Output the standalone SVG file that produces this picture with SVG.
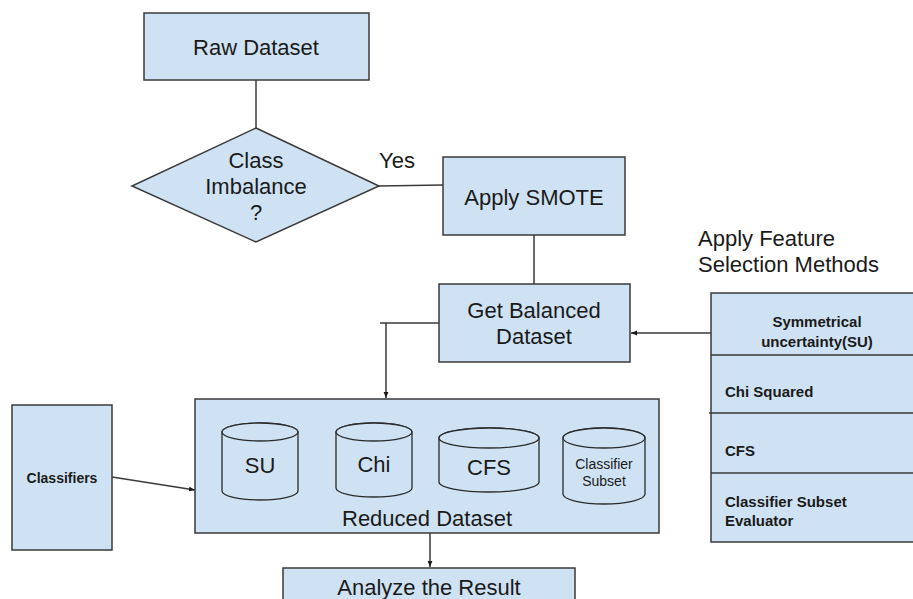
<svg xmlns="http://www.w3.org/2000/svg" width="913" height="599" viewBox="0 0 913 599">
<defs>
<style>
.box{fill:#cfe2f3;stroke:#3a3a3a;stroke-width:1.5}
.cyl{fill:#cfe2f3;stroke:#2a2a2a;stroke-width:1.3}
.ln{fill:none;stroke:#3a3a3a;stroke-width:1.5}
.t{font-family:"Liberation Sans",Arial,sans-serif;font-size:22px;fill:#1a1a1a;text-anchor:middle}
.b{font-family:"Liberation Sans",Arial,sans-serif;font-size:15px;font-weight:bold;fill:#1a1a1a}
.s{font-family:"Liberation Sans",Arial,sans-serif;font-size:14px;fill:#1a1a1a;text-anchor:middle}
</style>
<marker id="arr" viewBox="0 0 10 10" refX="10" refY="5" markerWidth="6" markerHeight="6" orient="auto" markerUnits="userSpaceOnUse">
<path d="M0,1 L10,5 L0,9 Z" fill="#1a1a1a"/>
</marker>
</defs>
<rect width="913" height="599" fill="#ffffff"/>

<g id="connectors">
<line class="ln" x1="256" y1="80" x2="256" y2="128"/>
<line class="ln" x1="379" y1="186" x2="443" y2="185"/>
<line class="ln" x1="534" y1="235" x2="534" y2="284"/>
<line class="ln" x1="439" y1="323" x2="380" y2="323"/>
<line class="ln" x1="386" y1="323" x2="386" y2="398" marker-end="url(#arr)"/>
<line class="ln" x1="711" y1="333" x2="631" y2="333" marker-end="url(#arr)"/>
<line class="ln" x1="112" y1="477" x2="195" y2="490" marker-end="url(#arr)"/>
<line class="ln" x1="430" y1="533" x2="430" y2="567" marker-end="url(#arr)"/>
<text x="379" y="168" class="t" style="text-anchor:start">Yes</text>
</g>

<g id="raw-dataset">
<rect class="box" x="144" y="13" width="225" height="67"/>
<text class="t" x="256" y="55">Raw Dataset</text>
</g>

<g id="class-imbalance">
<polygon class="box" points="256,128 379,186 256,242 132,186"/>
<text class="t" x="256" y="168">Class</text>
<text class="t" x="256" y="194">Imbalance</text>
<text class="t" x="256" y="220">?</text>
</g>

<g id="apply-smote">
<rect class="box" x="443" y="157" width="182" height="78"/>
<text class="t" x="534" y="205">Apply SMOTE</text>
</g>

<g id="get-balanced">
<rect class="box" x="439" y="284" width="191" height="78"/>
<text class="t" x="534" y="318">Get Balanced</text>
<text class="t" x="534" y="344">Dataset</text>
</g>

<g id="feature-methods">
<text class="t" x="698" y="246" style="text-anchor:start">Apply Feature</text>
<text class="t" x="698" y="272" style="text-anchor:start">Selection Methods</text>
<rect class="box" x="711" y="293" width="215" height="249"/>
<line class="ln" x1="711" y1="355" x2="926" y2="355"/>
<line class="ln" x1="709" y1="413" x2="926" y2="413"/>
<line class="ln" x1="711" y1="473" x2="926" y2="473"/>
<text class="b" x="817" y="327" style="text-anchor:middle">Symmetrical</text>
<text class="b" x="817" y="347" style="text-anchor:middle">uncertainty(SU)</text>
<text class="b" x="725" y="397">Chi Squared</text>
<text class="b" x="725" y="456">CFS</text>
<text class="b" x="725" y="507">Classifier Subset</text>
<text class="b" x="725" y="526">Evaluator</text>
</g>

<g id="classifiers">
<rect class="box" x="12" y="405" width="100" height="145"/>
<text class="b" x="62" y="483" style="text-anchor:middle;font-size:14px">Classifiers</text>
</g>

<g id="reduced-dataset">
<rect class="box" x="195" y="399" width="464" height="134"/>
<text class="t" x="427" y="526">Reduced Dataset</text>
</g>

<g id="cyl-su">
<path class="cyl" d="M222,432 A38,9 0 0 1 298,432 L298,491 A38,9 0 0 1 222,491 Z"/>
<ellipse class="cyl" cx="260" cy="432" rx="38" ry="9" fill="#dbe9f6"/>
<text class="t" x="260" y="473">SU</text>
</g>

<g id="cyl-chi">
<path class="cyl" d="M336,432 A38,9 0 0 1 412,432 L412,488 A38,9 0 0 1 336,488 Z"/>
<ellipse class="cyl" cx="374" cy="432" rx="38" ry="9" fill="#dbe9f6"/>
<text class="t" x="374" y="472">Chi</text>
</g>

<g id="cyl-cfs">
<path class="cyl" d="M439,438 A50,10 0 0 1 539,438 L539,482 A50,10 0 0 1 439,482 Z"/>
<ellipse class="cyl" cx="489" cy="438" rx="50" ry="10" fill="#dbe9f6"/>
<text class="t" x="489" y="475">CFS</text>
</g>

<g id="cyl-classifier-subset">
<path class="cyl" d="M563,438 A41,10 0 0 1 645,438 L645,494 A41,10 0 0 1 563,494 Z"/>
<ellipse class="cyl" cx="604" cy="438" rx="41" ry="10" fill="#dbe9f6"/>
<text class="s" x="604" y="469">Classifier</text>
<text class="s" x="604" y="486">Subset</text>
</g>

<g id="analyze-result">
<rect class="box" x="283" y="568" width="292" height="40"/>
<text class="t" x="429" y="595">Analyze the Result</text>
</g>
</svg>
